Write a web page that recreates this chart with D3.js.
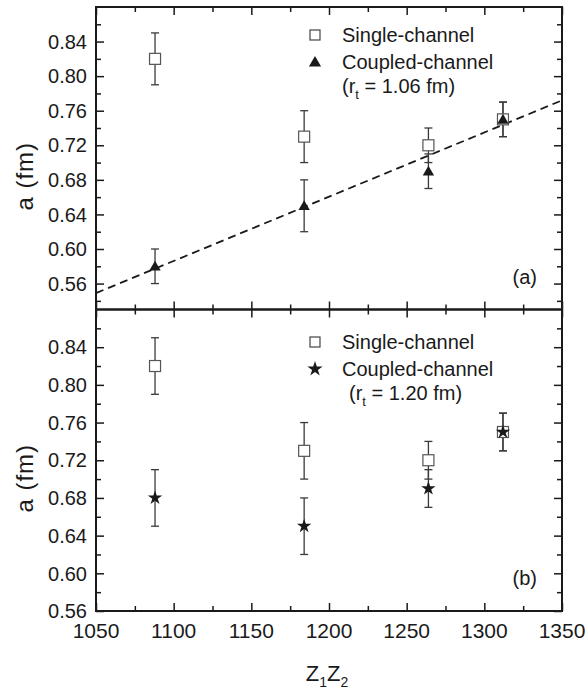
<!DOCTYPE html>
<html>
<head>
<meta charset="utf-8">
<script src="https://cdn.jsdelivr.net/npm/d3@7"></script>
<style>
  html, body { margin: 0; padding: 0; background: #fff; }
  svg { display: block; font-family: "Liberation Sans", Arial, Helvetica, sans-serif; }
</style>
</head>
<body>
<svg id="chart" width="586" height="694"></svg>
<script>
// ---------------- data ----------------
const z1z2 = [1088, 1184, 1264, 1312];
const singleA = [0.82, 0.73, 0.72, 0.75];
const singleErr = [0.03, 0.03, 0.02, 0.02];
const coupledA106 = [0.58, 0.65, 0.69, 0.75];
const coupledErr106 = [0.02, 0.03, 0.02, 0.02];
const coupledA120 = [0.68, 0.65, 0.69, 0.75];
const coupledErr120 = [0.03, 0.03, 0.02, 0.02];
const fitX = [1050, 1350];
const fitY = [0.549, 0.772];
const xTicks = [1050, 1100, 1150, 1200, 1250, 1300, 1350];
const xMinorTicks = [1075, 1125, 1175, 1225, 1275, 1325];
const yTickLabels = ["0.56", "0.60", "0.64", "0.68", "0.72", "0.76", "0.80", "0.84"];
const yMinorTicks = [0.54, 0.58, 0.62, 0.66, 0.70, 0.74, 0.78, 0.82, 0.86];

// ---------------- layout ----------------
const svg = d3.select("#chart");
const left = 96, right = 562;
const ink = "#1a1a1a";
const barCol = "#3a3a3a";
const fontSize = 20;

const x = d3.scaleLinear().domain([1050, 1350]).range([left, right]);

const panels = [
  { top: 7, bottom: 309.5, domain: [0.53, 0.88], coupled: coupledA106, cErr: coupledErr106,
    sym: d3.symbolTriangle, symSize: 56, rt: "1.06", tag: "(a)", fit: true, legY: 35, rIndent: 0 },
  { top: 309.5, bottom: 611, domain: [0.56, 0.88], coupled: coupledA120, cErr: coupledErr120,
    sym: d3.symbolStar, symSize: 64, rt: "1.20", tag: "(b)", fit: false, legY: 342, rIndent: 7 }
];

panels.forEach((p, pi) => {
  const y = d3.scaleLinear().domain(p.domain).range([p.bottom, p.top]);
  const g = svg.append("g");

  // y ticks (inward, both sides)
  const yMajor = yTickLabels.map(Number).filter(v => v >= p.domain[0] - 1e-9 && v <= p.domain[1] + 1e-9);
  const yMinor = yMinorTicks.filter(v => v > p.domain[0] && v < p.domain[1]);
  const leftAxis = d3.axisRight(y).tickValues(yMajor).tickSize(8).tickFormat("");
  const leftAxisMinor = d3.axisRight(y).tickValues(yMinor).tickSize(5).tickFormat("");
  const rightAxis = d3.axisLeft(y).tickValues(yMajor).tickSize(8).tickFormat("");
  const rightAxisMinor = d3.axisLeft(y).tickValues(yMinor).tickSize(5).tickFormat("");
  [[leftAxis, left], [leftAxisMinor, left], [rightAxis, right], [rightAxisMinor, right]].forEach(([ax, tx]) => {
    const a = g.append("g").attr("transform", `translate(${tx},0)`).call(ax);
    a.select(".domain").remove();
    a.selectAll("line").attr("stroke", ink).attr("stroke-width", 1.5);
  });

  // y tick labels
  g.selectAll("text.ylab").data(yMajor).enter().append("text")
    .attr("class", "ylab")
    .attr("x", left - 9).attr("y", d => y(d)).attr("dy", "0.36em")
    .attr("text-anchor", "end").attr("font-size", fontSize).attr("fill", ink)
    .text(d => d.toFixed(2));

  // x ticks, inward at top and bottom
  const xTop = d3.axisBottom(x).tickValues(xTicks).tickSize(8).tickFormat("");
  const xTopMinor = d3.axisBottom(x).tickValues(xMinorTicks).tickSize(5).tickFormat("");
  const xBot = d3.axisTop(x).tickValues(xTicks).tickSize(8).tickFormat("");
  const xBotMinor = d3.axisTop(x).tickValues(xMinorTicks).tickSize(5).tickFormat("");
  [[xTop, p.top], [xTopMinor, p.top], [xBot, p.bottom], [xBotMinor, p.bottom]].forEach(([ax, ty]) => {
    const a = g.append("g").attr("transform", `translate(0,${ty})`).call(ax);
    a.select(".domain").remove();
    a.selectAll("line").attr("stroke", ink).attr("stroke-width", 1.5);
  });

  // frame
  g.append("rect").attr("x", left).attr("y", p.top)
    .attr("width", right - left).attr("height", p.bottom - p.top)
    .attr("fill", "none").attr("stroke", ink).attr("stroke-width", 2);

  // y label
  g.append("text")
    .attr("transform", `translate(33,${(p.top + p.bottom) / 2 + 18}) rotate(-90)`)
    .attr("text-anchor", "middle").attr("font-size", 24).attr("fill", ink)
    .attr("letter-spacing", 1)
    .text("a (fm)");

  // fit line
  if (p.fit) {
    g.append("path")
      .datum(fitX.map((v, i) => [v, fitY[i]]))
      .attr("d", d3.line().x(d => x(d[0])).y(d => y(d[1])))
      .attr("fill", "none").attr("stroke", ink).attr("stroke-width", 1.8)
      .attr("stroke-dasharray", "8,5");
  }

  // error bars
  const drawErr = (vals, errs) => {
    vals.forEach((v, i) => {
      const cx = x(z1z2[i]);
      const y1 = y(v - errs[i]), y2 = y(v + errs[i]);
      g.append("line").attr("x1", cx).attr("x2", cx).attr("y1", y1).attr("y2", y2)
        .attr("stroke", barCol).attr("stroke-width", 1.3);
      [y1, y2].forEach(yy => g.append("line").attr("x1", cx - 4).attr("x2", cx + 4)
        .attr("y1", yy).attr("y2", yy).attr("stroke", barCol).attr("stroke-width", 1.3));
    });
  };
  drawErr(singleA, singleErr);
  drawErr(p.coupled, p.cErr);

  // single-channel squares
  g.selectAll("rect.sq").data(singleA).enter().append("rect")
    .attr("class", "sq")
    .attr("x", (d, i) => x(z1z2[i]) - 5.5).attr("y", d => y(d) - 5.5)
    .attr("width", 11).attr("height", 11)
    .attr("fill", "#fff").attr("stroke", "#555").attr("stroke-width", 1.2);

  // coupled-channel symbols
  g.selectAll("path.cc").data(p.coupled).enter().append("path")
    .attr("class", "cc")
    .attr("transform", (d, i) => `translate(${x(z1z2[i])},${y(d) + (pi === 0 ? 1 : 0)})`)
    .attr("d", d3.symbol().type(p.sym).size(p.symSize))
    .attr("fill", ink);

  // legend
  const lx = 315, tx = 342;
  g.append("rect").attr("x", lx - 5).attr("y", p.legY - 5).attr("width", 10).attr("height", 10)
    .attr("fill", "#fff").attr("stroke", "#444").attr("stroke-width", 1.2);
  g.append("text").attr("x", tx).attr("y", p.legY + 7).attr("font-size", fontSize).attr("fill", ink)
    .text("Single-channel");
  g.append("path").attr("transform", `translate(${lx},${p.legY + 27 + (pi === 0 ? 1 : 0)})`)
    .attr("d", d3.symbol().type(p.sym).size(p.symSize + 8)).attr("fill", ink);
  g.append("text").attr("x", tx).attr("y", p.legY + 34).attr("font-size", fontSize).attr("fill", ink)
    .text("Coupled-channel");
  const rt = g.append("text").attr("x", tx + p.rIndent).attr("y", p.legY + 58)
    .attr("font-size", fontSize).attr("fill", ink);
  rt.append("tspan").text("(r");
  rt.append("tspan").attr("font-size", 13).attr("dy", 6).text("t");
  rt.append("tspan").attr("dy", -6).text(" = " + p.rt + " fm)");

  // panel tag
  g.append("text").attr("x", 537).attr("y", p.bottom - 26).attr("text-anchor", "end")
    .attr("font-size", fontSize).attr("fill", ink).text(p.tag);
});

// x tick labels
svg.selectAll("text.xlab").data(xTicks).enter().append("text")
  .attr("class", "xlab")
  .attr("x", d => x(d)).attr("y", 638)
  .attr("text-anchor", "middle").attr("font-size", 21).attr("fill", ink)
  .text(d => d);

// x axis title
const xt = svg.append("text").attr("x", (left + right) / 2 - 2).attr("y", 681)
  .attr("text-anchor", "middle").attr("font-size", 22).attr("fill", ink);
xt.append("tspan").text("Z");
xt.append("tspan").attr("font-size", 14).attr("dy", 6).text("1");
xt.append("tspan").attr("dy", -6).text("Z");
xt.append("tspan").attr("font-size", 14).attr("dy", 6).text("2");
</script>
</body>
</html>
